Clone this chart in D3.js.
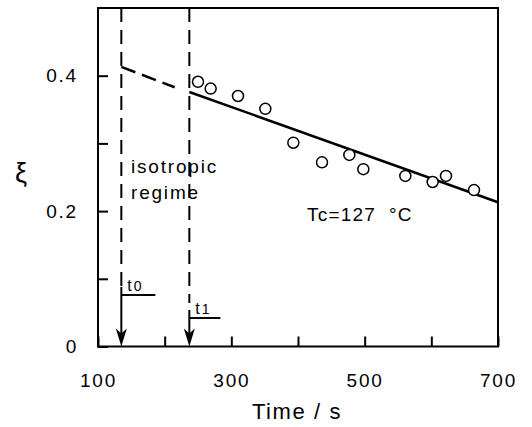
<!DOCTYPE html>
<html>
<head>
<meta charset="utf-8">
<script src="https://cdn.jsdelivr.net/npm/d3@7"></script>
<style>
  body { margin: 0; background: #fff; }
  svg text { font-family: "Liberation Sans", Arial, Helvetica, sans-serif; fill: #000; }
</style>
</head>
<body>
<div class="chart"></div>
<script>
const width = 532;
const height = 427;

// measured points
const times = [250, 269, 310, 351, 393, 436, 477, 498, 561, 602, 622, 664];
const xi = [0.391, 0.381, 0.370, 0.351, 0.301, 0.272, 0.283, 0.262, 0.252, 0.243, 0.252, 0.231];

// fitted line (solid) and its extrapolation back to t0 (dashed)
const fitTimes = [237, 700];
const fitXi = [0.376, 0.213];
const extraTimes = [135, 215];
const extraXi = [0.413, 0.383];

// marker times
const markerNames = ['0', '1'];
const markerTimes = [135, 237];

// ticks
const xTicks = [100, 200, 300, 400, 500, 600, 700];
const xLabels = [100, 300, 500, 700];
const yTicks = [0, 0.1, 0.2, 0.3, 0.4];
const yLabels = [0, 0.2, 0.4];

const svg = d3.select('.chart').append('svg')
    .attr('width', width)
    .attr('height', height)
    .attr('viewBox', `0 0 ${width} ${height}`);

const x = d3.scaleLinear().domain([100, 700]).range([98, 498]);
const y = d3.scaleLinear().domain([0, 0.5]).range([346.5, 8]);

/* frame */
svg.append('rect')
    .attr('x', x(100)).attr('y', y(0.5))
    .attr('width', x(700) - x(100)).attr('height', y(0) - y(0.5))
    .attr('fill', 'none').attr('stroke', '#000').attr('stroke-width', 2);

/* axes, ticks pointing inward */
const xAxis = svg.append('g')
    .attr('transform', `translate(0, ${y(0)})`)
    .call(d3.axisBottom(x).tickValues(xTicks).tickSizeInner(-10).tickSizeOuter(0).tickPadding(27)
        .tickFormat(d => xLabels.includes(d) ? d : ''));
xAxis.select('.domain').remove();
xAxis.selectAll('line').attr('stroke-width', 2);
xAxis.selectAll('text')
    .attr('font-size', 19).attr('letter-spacing', 1.8)
    .attr('font-family', '"Liberation Sans", Arial, sans-serif').attr('fill', '#000');

const yAxis = svg.append('g')
    .attr('transform', `translate(${x(100)}, 0)`)
    .call(d3.axisLeft(y).tickValues(yTicks).tickSizeInner(-10).tickSizeOuter(0).tickPadding(20)
        .tickFormat(d => yLabels.includes(d) ? d3.format('')(d) : ''));
yAxis.select('.domain').remove();
yAxis.selectAll('line').attr('stroke-width', 2);
yAxis.selectAll('text')
    .attr('font-size', 19).attr('letter-spacing', 1.8)
    .attr('font-family', '"Liberation Sans", Arial, sans-serif').attr('fill', '#000');

/* axis titles */
svg.append('text')
    .attr('x', 297).attr('y', 419)
    .attr('text-anchor', 'middle')
    .attr('font-size', 22).attr('letter-spacing', 1.6)
    .text('Time / s');
svg.append('text')
    .attr('x', 21).attr('y', 182)
    .attr('text-anchor', 'middle')
    .attr('font-size', 27)
    .text('ξ');

/* marker lines t0 / t1 */
const dashEnds = [287, 303];
const bracketY = [295, 318];
const bracketLen = [34, 31];
const markers = svg.append('g');
markerTimes.forEach((t, i) => {
    markers.append('line')
        .attr('x1', x(t)).attr('x2', x(t))
        .attr('y1', y(0.5)).attr('y2', dashEnds[i])
        .attr('stroke', '#000').attr('stroke-width', 2)
        .attr('stroke-dasharray', '14,8');
    markers.append('line')
        .attr('x1', x(t)).attr('x2', x(t))
        .attr('y1', bracketY[i] - 8).attr('y2', y(0) - 10)
        .attr('stroke', '#000').attr('stroke-width', 2);
    // arrowhead
    const ax = x(t), ay = y(0);
    markers.append('path')
        .attr('d', `M${ax},${ay} L${ax - 5.5},${ay - 18} L${ax},${ay - 13} L${ax + 5.5},${ay - 18} Z`)
        .attr('fill', '#000');
    markers.append('line')
        .attr('x1', x(t)).attr('x2', x(t) + bracketLen[i])
        .attr('y1', bracketY[i]).attr('y2', bracketY[i])
        .attr('stroke', '#000').attr('stroke-width', 2);
    const lab = markers.append('text')
        .attr('x', x(t) + 6).attr('y', bracketY[i] - 4)
        .attr('font-size', 16);
    lab.append('tspan').text('t');
    lab.append('tspan').attr('font-size', 14).attr('dx', 2).text(markerNames[i]);
});

/* fit lines */
const line = d3.line().x(d => x(d[0])).y(d => y(d[1]));
svg.append('path')
    .datum(extraTimes.map((t, i) => [t, extraXi[i]]))
    .attr('d', line)
    .attr('fill', 'none').attr('stroke', '#000').attr('stroke-width', 2.5)
    .attr('stroke-dasharray', '15,7');
svg.append('path')
    .datum(fitTimes.map((t, i) => [t, fitXi[i]]))
    .attr('d', line)
    .attr('fill', 'none').attr('stroke', '#000').attr('stroke-width', 2.5);

/* data points */
svg.append('g').selectAll('circle')
    .data(times.map((t, i) => [t, xi[i]]))
    .enter().append('circle')
    .attr('cx', d => x(d[0]))
    .attr('cy', d => y(d[1]))
    .attr('r', 5.5)
    .attr('fill', '#fff').attr('stroke', '#000').attr('stroke-width', 1.5);

/* annotations */
const iso = svg.append('text')
    .attr('x', 131).attr('y', 173)
    .attr('font-size', 19).attr('letter-spacing', 1.8);
iso.append('tspan').attr('x', 131).text('isotropic');
iso.append('tspan').attr('x', 131).attr('dy', 26).text('regime');

svg.append('text')
    .attr('x', 307).attr('y', 221)
    .attr('font-size', 19).attr('letter-spacing', 1.2)
    .attr('xml:space', 'preserve')
    .text('Tc=127  °C');
</script>
</body>
</html>
